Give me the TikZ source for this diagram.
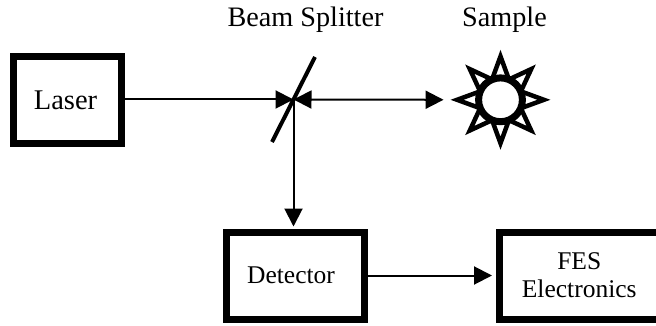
\documentclass[tikz,border=0pt]{standalone}
\usepackage{fontspec}
\setmainfont{Liberation Serif}
\usetikzlibrary{arrows.meta,shapes.geometric}
\tikzset{
	block/.style={draw, line width=7pt, fill=white, inner sep=0pt, align=center, font=\fontsize{25.5}{28}\selectfont},
	beam/.style={line width=2pt, -{Triangle[length=18pt,width=18pt]}},
	caption/.style={inner sep=0pt, anchor=base, font=\fontsize{28.2}{30}\selectfont}
}
\begin{document}
\begin{tikzpicture}[x=1pt, y=-1pt]
	\useasboundingbox (0, 0) rectangle (656, 326);

	\node [block, minimum width=108pt, minimum height=87pt, font=\fontsize{28.5}{30}\selectfont] (laser) at (67, 100) {Laser\hspace{3pt}};
	\node [block, minimum width=138pt, minimum height=87pt] (detector) at (295, 275.5) {Detector\hspace{8pt}};
	\node [block, minimum width=159.5pt, minimum height=87pt] (fes) at (579.25, 275.5) {FES\\Electronics};

	\coordinate (splitter) at (293.5, 99.5);
	\coordinate (mirrorA) at (315, 57);
	\coordinate (mirrorB) at (272, 142);
	\draw [line width=4pt] (mirrorA) -- (mirrorB);

	% sun shape for the sample
	\node [draw, fill=white, line width=4.5pt, star, star points=8, star point ratio=1.97, minimum size=86.8pt, inner sep=0pt] (sample) at (500.5, 99.8) {};
	\node [draw, fill=white, line width=7pt, circle, minimum size=43.8pt, inner sep=0pt] (sampleCore) at (sample.center) {};

	\draw [beam] (laser.east |- splitter) -- (splitter);
	\draw [beam, {Triangle[length=18pt,width=18pt]}-{Triangle[length=18pt,width=18pt]}, shorten >=7pt] (splitter) -- (sample.center -| sample.west);
	\draw [beam, shorten >=2pt] (splitter) -- (splitter |- detector.north);
	\draw [beam, shorten >=4pt] (detector.east) -- (fes.west);

	\node [caption] (splitterLabel) at (305.5, 27) {Beam Splitter};
	\node [caption] (sampleLabel) at (504.5, 27) {Sample};
\end{tikzpicture}
\end{document}
